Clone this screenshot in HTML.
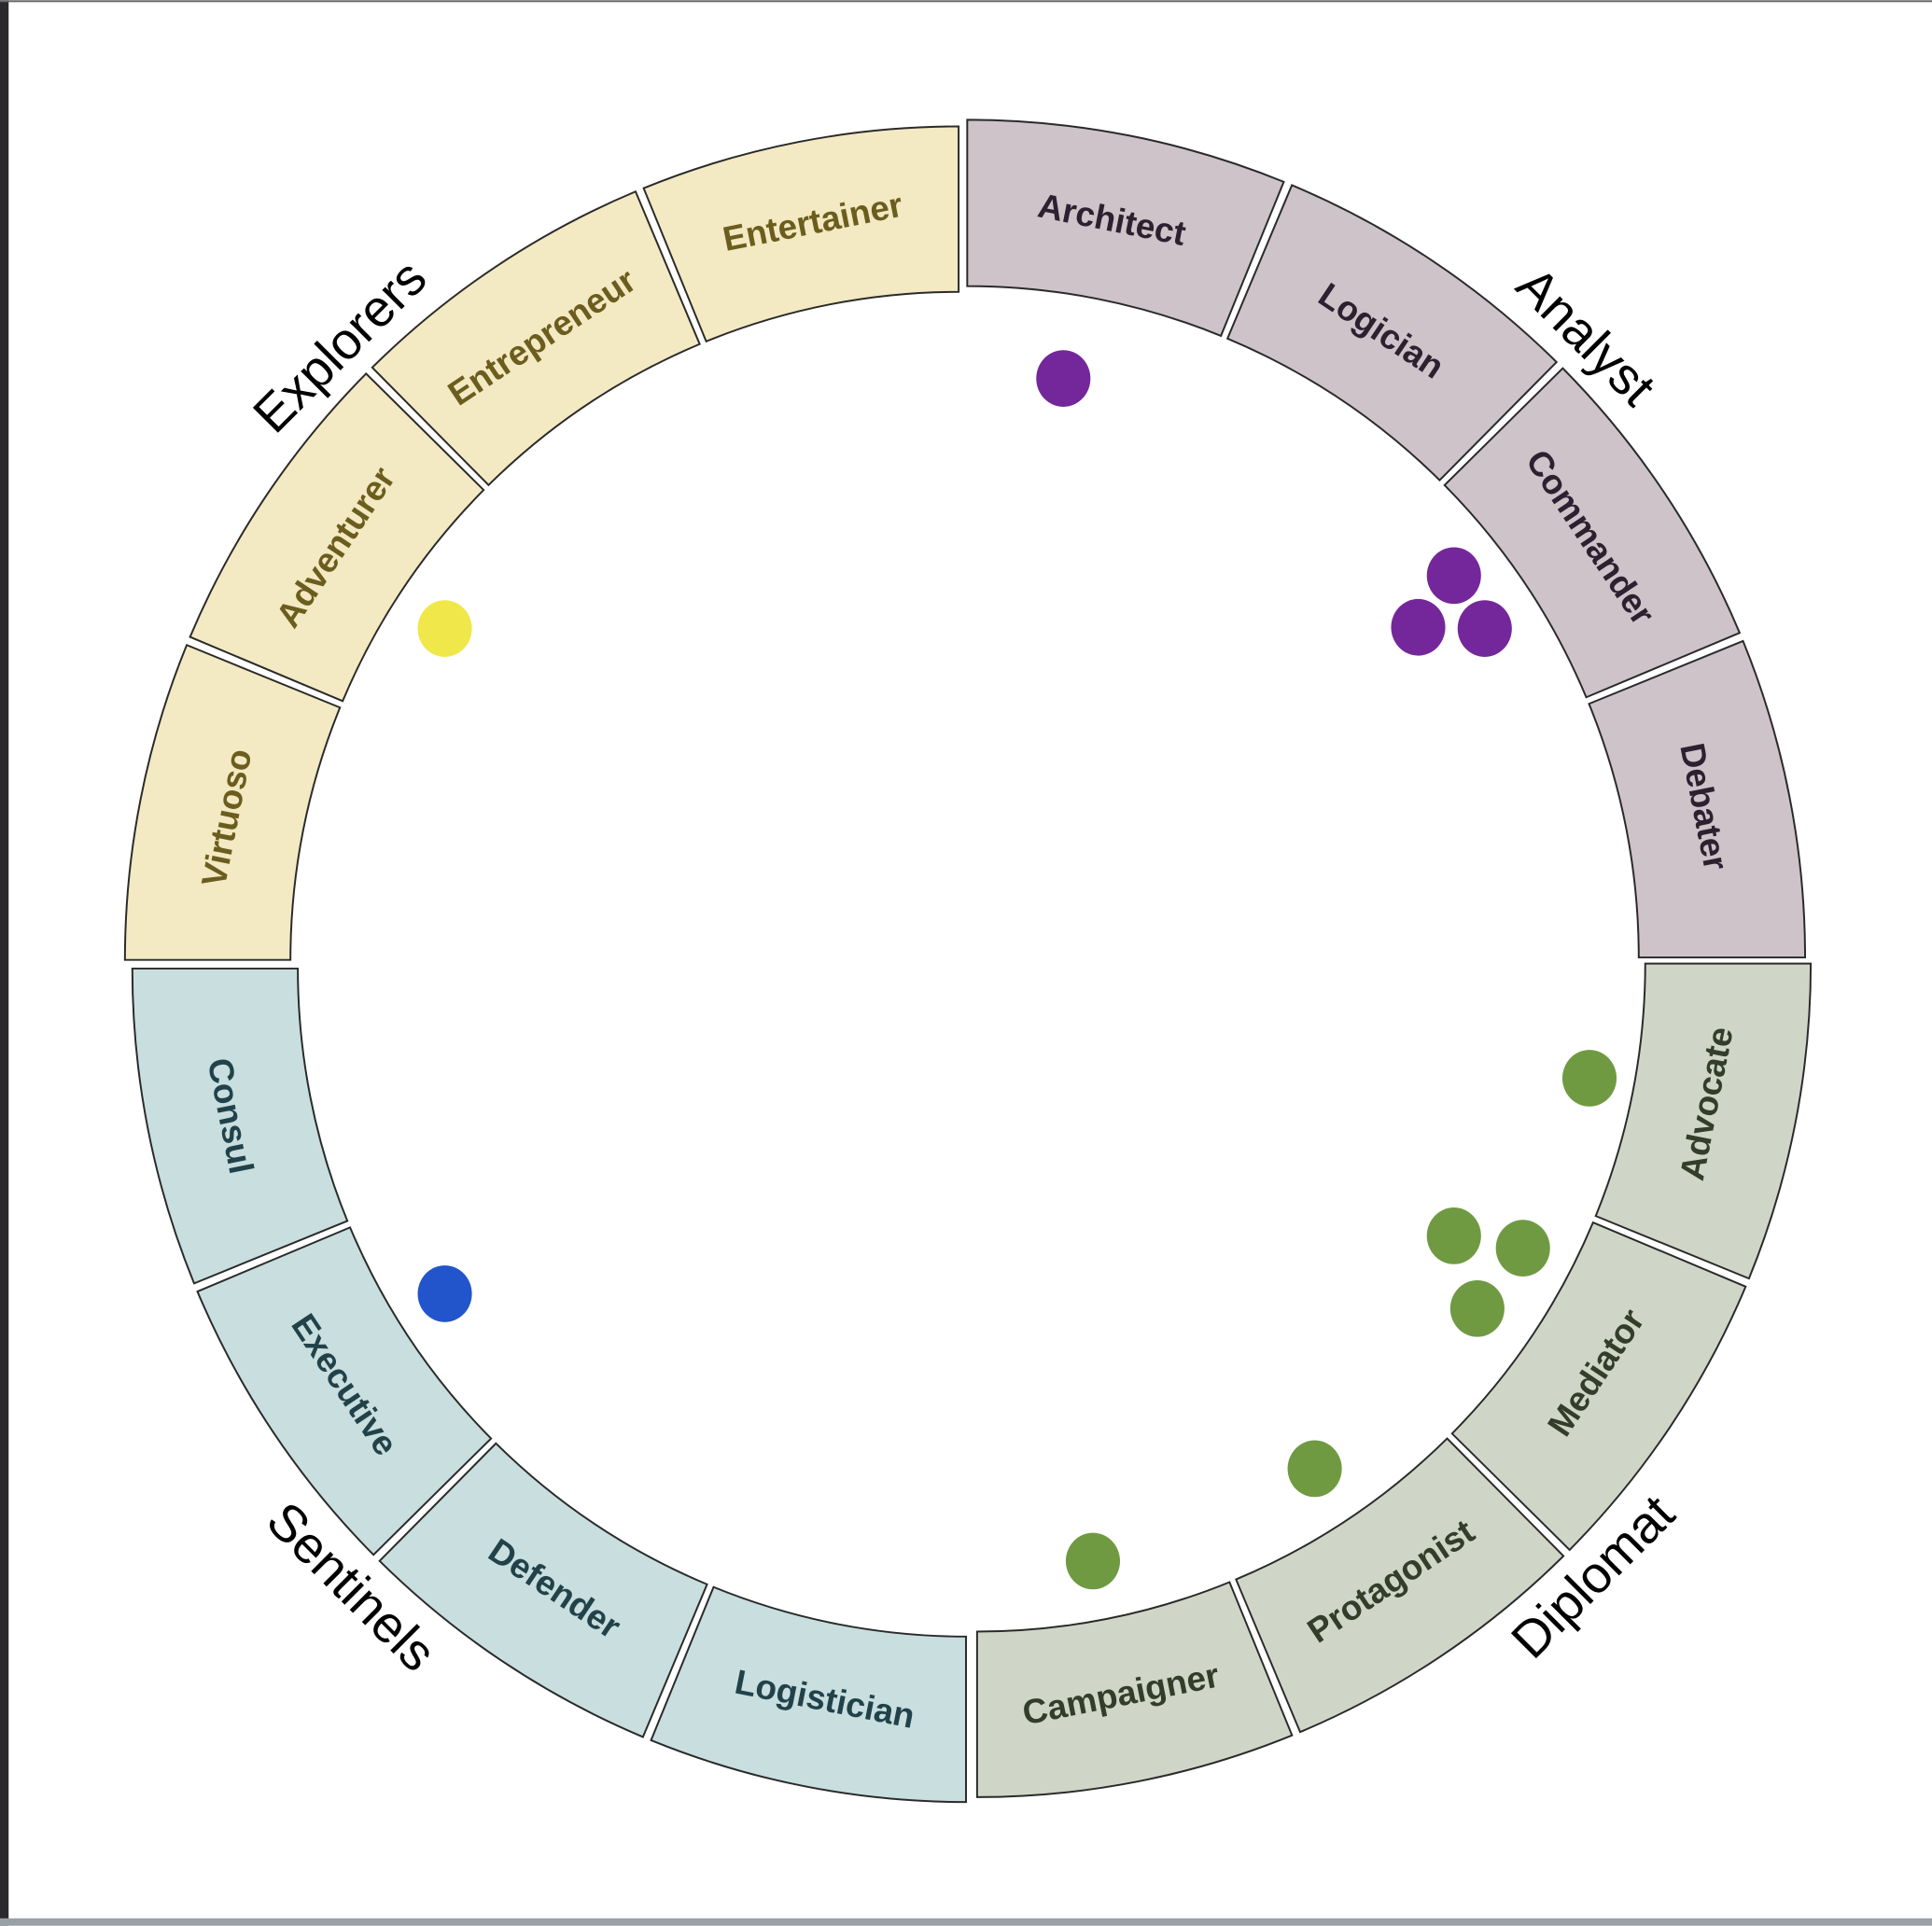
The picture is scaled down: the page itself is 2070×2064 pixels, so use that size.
<!DOCTYPE html>
<html><head><meta charset="utf-8"><style>
html,body{margin:0;padding:0;background:#fff;}
svg{display:block;}
.t{font-family:"Liberation Sans",sans-serif;font-weight:bold;font-size:28px;text-anchor:middle;dominant-baseline:middle;}
.g{font-family:"Liberation Sans",sans-serif;font-size:42px;text-anchor:middle;dominant-baseline:middle;fill:#000;}
</style></head><body>
<svg width="2070" height="2064" viewBox="0 0 1568 1563" xmlns="http://www.w3.org/2000/svg">
<rect x="0" y="0" width="1568" height="1563" fill="#fff"/>
<rect x="0" y="0" width="7" height="1563" fill="#2a2a2e"/>
<rect x="0" y="0" width="1568" height="1.5" fill="#666"/>
<rect x="0" y="1557" width="1568" height="6" fill="#9aa0a8"/>
<defs>
<g id="q">
<path d="M0,-680 A680,680 0 0 1 256.9,-629.6 L205.9,-504.6 A545,545 0 0 0 0,-545 Z"/>
<path d="M263.5,-626.9 A680,680 0 0 1 478.3,-483.3 L383.4,-387.4 A545,545 0 0 0 211.2,-502.4 Z"/>
<path d="M483.3,-478.3 A680,680 0 0 1 626.9,-263.5 L502.4,-211.2 A545,545 0 0 0 387.4,-383.4 Z"/>
<path d="M629.6,-256.9 A680,680 0 0 1 680,0 L545,0 A545,545 0 0 0 504.6,-205.9 Z"/>
</g>
</defs>
<g stroke="#2a2a2a" stroke-width="1.5">
<use href="#q" transform="translate(785,777)" fill="#cdc3c8"/>
<use href="#q" transform="translate(793,782) rotate(90) scale(0.995)" fill="#d0d6c7"/>
<use href="#q" transform="translate(784,786) rotate(180) scale(0.995)" fill="#c8dedf"/>
<use href="#q" transform="translate(778,779) rotate(270) scale(0.995)" fill="#f3e9c2"/>
</g>
<g fill="#2d2030">
<text class="t" transform="translate(902,180) rotate(11.25)">Architect</text>
<text class="t" transform="translate(1120,270) rotate(33.75)">Logician</text>
<text class="t" transform="translate(1289,437) rotate(56.25)">Commander</text>
<text class="t" transform="translate(1381,655) rotate(78.75)">Debater</text>
</g>
<g fill="#333d2a">
<text class="t" transform="translate(1387,896) rotate(-78.75)">Advocate</text>
<text class="t" transform="translate(1297,1115) rotate(-56.25)">Mediator</text>
<text class="t" transform="translate(1130,1285) rotate(-33.75)">Protagonist</text>
<text class="t" transform="translate(910,1377) rotate(-11.25)">Campaigner</text>
</g>
<g fill="#22424a">
<text class="t" transform="translate(669,1381) rotate(11.25)">Logistician</text>
<text class="t" transform="translate(449,1291) rotate(33.75)">Defender</text>
<text class="t" transform="translate(278,1125) rotate(56.25)">Executive</text>
<text class="t" transform="translate(185,906) rotate(78.75)">Consul</text>
</g>
<g fill="#6b5d1e">
<text class="t" transform="translate(186,664) rotate(-78.75)">Virtuoso</text>
<text class="t" transform="translate(274,445) rotate(-56.25)">Adventurer</text>
<text class="t" transform="translate(441,275) rotate(-33.75)">Entrepreneur</text>
<text class="t" transform="translate(660,182) rotate(-11.25)">Entertainer</text>
</g>
<text class="g" transform="translate(1285,275) rotate(45)">Analyst</text>
<text class="g" transform="translate(278,283) rotate(-45)">Explorers</text>
<text class="g" transform="translate(283,1290) rotate(45)">Sentinels</text>
<text class="g" transform="translate(1295,1282) rotate(-45)">Diplomat</text>
<g fill="#74279a">
<ellipse cx="863" cy="307" rx="22" ry="23"/>
<ellipse cx="1180" cy="467" rx="22" ry="23"/>
<ellipse cx="1151" cy="509" rx="22" ry="23"/>
<ellipse cx="1205" cy="510" rx="22" ry="23"/>
</g>
<ellipse cx="361" cy="510" rx="22" ry="23" fill="#f0e84a"/>
<ellipse cx="361" cy="1050" rx="22" ry="23" fill="#2255cc"/>
<g fill="#6f9a42">
<ellipse cx="1290" cy="875" rx="22" ry="23"/>
<ellipse cx="1180" cy="1003" rx="22" ry="23"/>
<ellipse cx="1236" cy="1013" rx="22" ry="23"/>
<ellipse cx="1199" cy="1062" rx="22" ry="23"/>
<ellipse cx="1067" cy="1192" rx="22" ry="23"/>
<ellipse cx="887" cy="1267" rx="22" ry="23"/>
</g>
</svg>
</body></html>
